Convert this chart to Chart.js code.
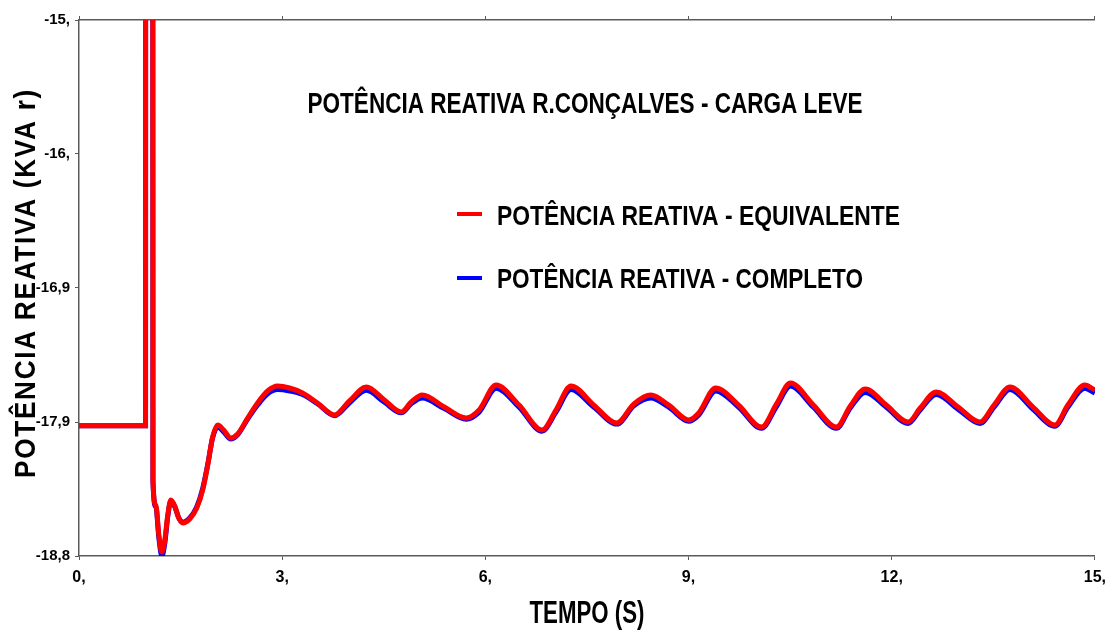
<!DOCTYPE html>
<html>
<head>
<meta charset="utf-8">
<script src="https://cdn.jsdelivr.net/npm/chart.js@4/dist/chart.umd.min.js"></script>
<style>
html,body{margin:0;padding:0;background:#fff;}
#wrap{width:1114px;height:632px;position:relative;}
</style>
</head>
<body>
<div id="wrap"><canvas id="c" width="1114" height="632"></canvas></div>
<script>
const chartTitle = "POTÊNCIA REATIVA R.CONÇALVES - CARGA LEVE";
const xAxisTitle = "TEMPO (S)";
const yAxisTitle = "POTÊNCIA REATIVA (KVA r)";
const seriesNames = ["POTÊNCIA REATIVA - EQUIVALENTE", "POTÊNCIA REATIVA - COMPLETO"];

const timeS = [0, 0.983, 0.984, 1.089, 1.092, 1.134, 1.179, 1.223, 1.267, 1.311, 1.356, 1.414, 1.473, 1.532, 1.635, 1.739, 1.827, 1.901, 1.974, 2.048, 2.136, 2.240, 2.343, 2.490, 2.637, 2.785, 2.932, 3.109, 3.300, 3.521, 3.772, 3.993, 4.243, 4.509, 4.759, 4.906, 5.068, 5.393, 5.717, 5.908, 6.159, 6.498, 6.837, 7.043, 7.264, 7.603, 7.942, 8.193, 8.443, 8.708, 9.003, 9.151, 9.401, 9.740, 10.078, 10.299, 10.505, 10.844, 11.183, 11.389, 11.610, 11.920, 12.244, 12.421, 12.657, 12.981, 13.305, 13.511, 13.747, 14.086, 14.410, 14.601, 14.852, 15.0];

const qEquivalente = [-17.876, -17.876, -14, -14, -18.261, -18.438, -18.651, -18.772, -18.687, -18.509, -18.403, -18.446, -18.531, -18.566, -18.538, -18.460, -18.332, -18.155, -17.956, -17.871, -17.907, -17.963, -17.935, -17.822, -17.715, -17.630, -17.595, -17.609, -17.644, -17.715, -17.800, -17.701, -17.602, -17.694, -17.779, -17.708, -17.659, -17.744, -17.822, -17.765, -17.588, -17.730, -17.907, -17.765, -17.595, -17.730, -17.857, -17.722, -17.659, -17.730, -17.836, -17.786, -17.609, -17.730, -17.886, -17.722, -17.574, -17.730, -17.886, -17.737, -17.616, -17.730, -17.850, -17.751, -17.637, -17.744, -17.850, -17.730, -17.602, -17.744, -17.871, -17.730, -17.588, -17.623];

const qCompleto = [-17.876, -17.876, -14, -14, -18.27, -18.45, -18.67, -18.80, -18.71, -18.52, -18.41, -18.45, -18.53, -18.56, -18.53, -18.45, -18.32, -18.15, -17.96, -17.885, -17.92, -17.97, -17.94, -17.83, -17.73, -17.65, -17.62, -17.63, -17.655, -17.72, -17.805, -17.715, -17.625, -17.71, -17.785, -17.72, -17.68, -17.755, -17.83, -17.78, -17.61, -17.745, -17.915, -17.78, -17.62, -17.745, -17.865, -17.735, -17.68, -17.745, -17.845, -17.80, -17.63, -17.745, -17.895, -17.74, -17.595, -17.745, -17.895, -17.75, -17.64, -17.745, -17.86, -17.765, -17.655, -17.76, -17.86, -17.745, -17.62, -17.76, -17.88, -17.745, -17.61, -17.645];

const xTickValues = [0, 3, 6, 9, 12, 15];
const xTickLabels = ["0,", "3,", "6,", "9,", "12,", "15,"];
const yTickValues = [-18.8, -17.85, -16.9, -15.95, -15];
const yTickLabels = ["-18,8", "-17,9", "-16,9", "-16,", "-15,"];

const FONT = '"Liberation Sans", Arial, sans-serif';
const AXIS_COLOR = '#5a5a5a';

const toPts = (xs, ys) => xs.map((x, i) => ({x: x, y: ys[i]}));

// draws text horizontally compressed (narrow-font look) to a given width
function fitText(ctx, text, x, y, width, size, align, spacing) {
  ctx.save();
  ctx.font = 'bold ' + size + 'px ' + FONT;
  ctx.letterSpacing = (spacing || 0) + 'px';
  const w = ctx.measureText(text).width;
  const sx = width / w;
  ctx.translate(x, y);
  ctx.scale(sx, 1);
  ctx.textBaseline = 'alphabetic';
  ctx.textAlign = align;
  ctx.fillText(text, 0, 0);
  ctx.restore();
}

const decor = {
  id: 'decor',
  afterDraw(chart) {
    const ctx = chart.ctx;
    const ca = chart.chartArea;
    ctx.save();
    ctx.fillStyle = '#000';
    fitText(ctx, chartTitle, 585, 113, 555, 29, 'center');
    fitText(ctx, xAxisTitle, (ca.left + ca.right) / 2, 623, 115, 31, 'center');
    const ds = chart.data.datasets;
    const legY = [214, 278];
    const legBase = [225, 288];
    const legW = [403, 366];
    ds.forEach((d, i) => {
      ctx.strokeStyle = d.borderColor;
      ctx.lineWidth = 4;
      ctx.beginPath();
      ctx.moveTo(457, legY[i]);
      ctx.lineTo(482, legY[i]);
      ctx.stroke();
      fitText(ctx, d.label, 497, legBase[i], legW[i], 28, 'left');
    });
    ctx.translate(35, 283);
    ctx.rotate(-Math.PI / 2);
    fitText(ctx, yAxisTitle, 0, 0, 390, 30, 'center', 2);
    ctx.restore();
  }
};

new Chart(document.getElementById('c'), {
  type: 'line',
  data: {
    datasets: [
      {label: seriesNames[0], data: toPts(timeS, qEquivalente), borderColor: '#ff0000', borderWidth: 5, pointRadius: 0, cubicInterpolationMode: 'monotone', clip: 0},
      {label: seriesNames[1], data: toPts(timeS, qCompleto), borderColor: '#0000ff', borderWidth: 5, pointRadius: 0, cubicInterpolationMode: 'monotone', clip: 0}
    ]
  },
  options: {
    responsive: false,
    animation: false,
    events: [],
    layout: {padding: {left: 0, right: 17, top: 0, bottom: 0}},
    plugins: {legend: {display: false}, title: {display: false}, tooltip: {enabled: false}},
    scales: {
      x: {
        type: 'linear', position: 'bottom', min: 0, max: 15,
        afterBuildTicks: s => { s.ticks = xTickValues.map(v => ({value: v})); },
        afterFit: s => { s.height = 76; },
        ticks: {
          callback: (v) => xTickLabels[xTickValues.indexOf(v)],
          font: {family: FONT, size: 16, weight: 'bold'}, color: '#000', padding: 8, maxRotation: 0
        },
        grid: {display: true, drawOnChartArea: false, drawTicks: true, tickLength: 4, color: AXIS_COLOR},
        border: {display: true, color: AXIS_COLOR, width: 1.5}
      },
      xTop: {
        type: 'linear', position: 'top', min: 0, max: 15,
        afterBuildTicks: s => { s.ticks = xTickValues.map(v => ({value: v})); },
        afterFit: s => { s.height = 20; },
        ticks: {display: true, color: 'rgba(0,0,0,0)', font: {size: 1}, padding: 0},
        grid: {display: true, drawOnChartArea: false, drawTicks: true, tickLength: 4, color: AXIS_COLOR},
        border: {display: true, color: AXIS_COLOR, width: 1.5}
      },
      y: {
        type: 'linear', position: 'left', min: -18.8, max: -15,
        afterBuildTicks: s => { s.ticks = yTickValues.map(v => ({value: v})); },
        afterFit: s => { s.width = 79; },
        ticks: {
          callback: (v) => yTickLabels[yTickValues.indexOf(v)],
          font: {family: FONT, size: 15, weight: 'bold'}, color: '#000', padding: 5
        },
        grid: {display: true, drawOnChartArea: false, drawTicks: true, tickLength: 4, color: AXIS_COLOR},
        border: {display: true, color: AXIS_COLOR, width: 1.5}
      }
    }
  },
  plugins: [decor]
});
</script>
</body>
</html>
